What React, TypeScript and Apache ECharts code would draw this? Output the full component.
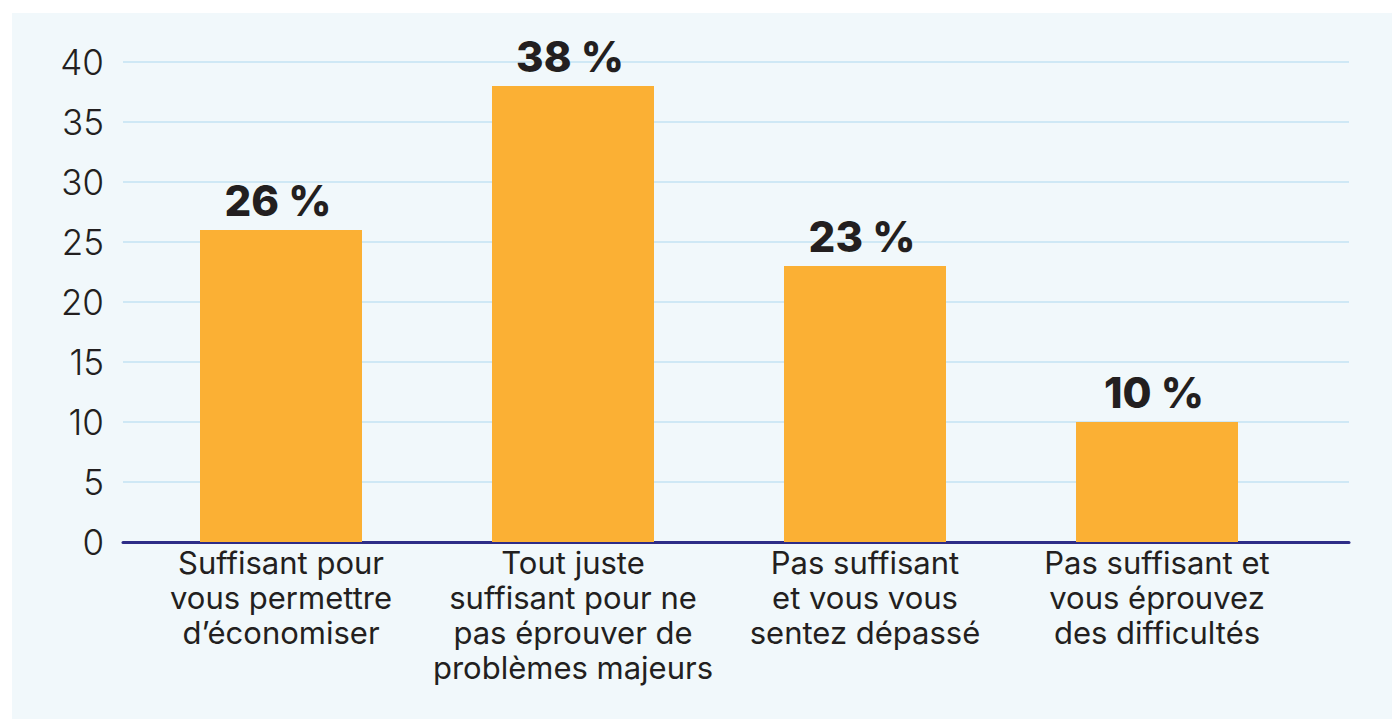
import React, { useEffect, useRef } from "react";
import * as echarts from "echarts";

const categories = [
  "Suffisant pour\nvous permettre\nd’économiser",
  "Tout juste\nsuffisant pour ne\npas éprouver de\nproblèmes majeurs",
  "Pas suffisant\net vous vous\nsentez dépassé",
  "Pas suffisant et\nvous éprouvez\ndes difficultés",
];
const values = [26, 38, 23, 10];
const yTicks = [0, 5, 10, 15, 20, 25, 30, 35, 40];

const FONT = "Inter, 'Noto Sans', sans-serif";

export default function App() {
  const ref = useRef<HTMLDivElement>(null);
  useEffect(() => {
    if (!ref.current) return;
    const chart = echarts.init(ref.current, undefined, { renderer: "svg" });
    const top = 62;
    const bottom = 719 - 542;
    chart.setOption({
      animation: false,
      backgroundColor: "#ffffff",
      graphic: [
        {
          type: "rect",
          z: -10,
          shape: { x: 12, y: 13, width: 1380, height: 706 },
          style: { fill: "#f1f8fb" },
          silent: true,
        },
      ],
      grid: [
        { left: 135, right: 89, top, bottom },
        { left: 123, right: 43, top, bottom },
      ],
      xAxis: [
        {
          type: "category",
          gridIndex: 0,
          data: categories,
          axisLine: { show: false },
          axisTick: { show: false },
          axisLabel: {
            fontFamily: FONT,
            fontSize: 31,
            lineHeight: 35,
            color: "#231f20",
            margin: 3,
            interval: 0,
            align: "center",
          },
        },
        {
          type: "value",
          gridIndex: 1,
          min: 0,
          max: 1,
          axisLine: { show: true, onZero: false, lineStyle: { color: "#2e2d87", width: 3 } },
          axisTick: { show: false },
          axisLabel: { show: false },
          splitLine: { show: false },
        },
      ],
      yAxis: [
        {
          type: "value",
          gridIndex: 0,
          min: yTicks[0],
          max: yTicks[yTicks.length - 1],
          interval: 5,
          axisLine: { show: false },
          axisTick: { show: false },
          axisLabel: { show: false },
          splitLine: { show: false },
        },
        {
          type: "value",
          gridIndex: 1,
          min: yTicks[0],
          max: yTicks[yTicks.length - 1],
          interval: 5,
          axisLine: { show: false },
          axisTick: { show: false },
          axisLabel: {
            fontFamily: FONT,
            fontSize: 35,
            fontWeight: 300,
            color: "#231f20",
            margin: 19,
            padding: [12, 0, 0, 0],
          },
          splitLine: { show: true, lineStyle: { color: "#cfe8f5", width: 2 } },
        },
      ],
      series: [
        {
          type: "bar",
          xAxisIndex: 0,
          yAxisIndex: 0,
          data: values,
          barWidth: 162,
          z: 3,
          itemStyle: { color: "#fbb034" },
          label: {
            show: true,
            position: "top",
            distance: 9,
            offset: [-3, 0],
            formatter: (p: any) => `${p.value} %`,
            fontFamily: FONT,
            fontSize: 42,
            fontWeight: 800,
            color: "#231f20",
          },
        },
      ],
    });
    return () => chart.dispose();
  }, []);
  return (
    <div
      ref={ref}
      style={{ position: "fixed", left: 0, top: 0, width: 1392, height: 719 }}
    />
  );
}
